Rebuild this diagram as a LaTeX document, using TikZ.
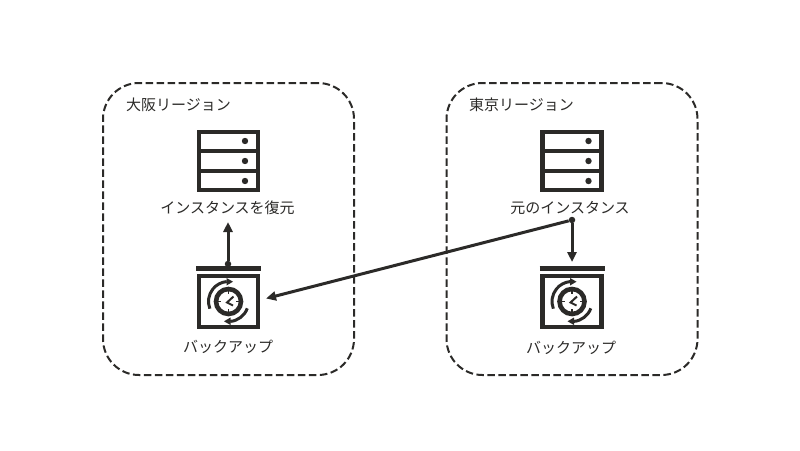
\documentclass[tikz,border=0pt]{standalone}
\usepackage{fontspec}
\setmainfont{Noto Sans CJK JP}
\usetikzlibrary{arrows.meta}
\definecolor{inkc}{HTML}{2B2A28}
\tikzset{
  region/.style={draw=inkc,line width=2pt,dash pattern=on 7.5pt off 3.5pt,rounded corners=36pt,minimum width=251pt,minimum height=292pt},
  label/.style={text=inkc,font=\fontsize{15}{18}\selectfont,inner sep=0pt},
  server/.style={draw=inkc,line width=4.5pt,minimum width=59pt,minimum height=58pt,inner sep=0pt},
  backupbox/.style={draw=inkc,line width=4.5pt,minimum width=59pt,minimum height=51pt,inner sep=0pt},
  joint/.style={circle,fill=inkc,inner sep=0pt,minimum size=6.5pt},
  conn/.style={draw=inkc,line width=3pt,-{Triangle[length=10pt,width=9pt]}},
  pics/rack/.style={code={
    \draw[draw=inkc,line width=4.5pt] (-31,-10) -- (31,-10) (-31,10) -- (31,10);
    \foreach \y in {-20,0,20}
      \fill[inkc] (16.5,\y) circle (3.2pt);
  }},
  pics/clockicon/.style={code={
    \draw[draw=inkc,line width=4.6pt] (0,0) circle (12.5pt);
    \foreach \a in {0,90,180,270}
      \draw[draw=inkc,line width=1.4pt] (\a:10.5pt) -- (\a:7.5pt);
    \draw[draw=inkc,line width=2pt] (5,-5) -- (-1.5,1) -- (4.5,4);
    \draw[draw=inkc,line width=3pt] (201:20pt) arc (201:95:20pt);
    \fill[inkc] (-2,-23.5) -- (4.5,-19.8) -- (-2,-16) -- cycle;
    \draw[draw=inkc,line width=3pt] (-20:20pt) arc (-20:-85:20pt);
    \fill[inkc] (2,23.5) -- (-4.5,19.8) -- (2,16) -- cycle;
  }},
  pics/backupicon/.style={code={
    \draw[draw=inkc,line width=4.5pt] (-32.5,-33) -- (32.5,-33);
    \pic at (0,0) {clockicon};
  }}
}
\begin{document}
\begin{tikzpicture}[x=1pt,y=-1pt]
  \useasboundingbox (0,0) rectangle (800,450);

  % regions
  \node[region] (osaka) at (228.5,229) {};
  \node[region] (tokyo) at (572,229) {};
  \node[label,anchor=west] (osakaname) at (126,104.5) {大阪リージョン};
  \node[label,anchor=west] (tokyoname) at (469,104.5) {東京リージョン};

  % instances
  \node[server] (osakadb) at (228.5,161) {};
  \pic at (228.5,161) {rack};
  \node[label] (osakadblabel) at (227.5,207.5) {インスタンスを復元};
  \node[server] (tokyodb) at (572,161) {};
  \pic at (572,161) {rack};
  \node[label] (tokyodblabel) at (570,207.5) {元のインスタンス};

  % backups
  \node[backupbox] (osakabak) at (228.5,301.5) {};
  \pic at (228.5,301.5) {backupicon};
  \node[label] (osakabaklabel) at (228,346.5) {バックアップ};
  \node[backupbox] (tokyobak) at (572,301.5) {};
  \pic at (572,301.5) {backupicon};
  \node[label] (tokyobaklabel) at (571,347.5) {バックアップ};

  % connectors
  \node[joint] (osakajoint) at (228,264) {};
  \node[joint] (tokyojoint) at (572,220) {};
  \coordinate (osakatop) at (228,222);
  \coordinate (tokyoend) at (572,262);
  \coordinate (osakaend) at (266,298.5);
  \draw[conn] (osakajoint) -- (osakatop);
  \draw[conn] (tokyojoint) -- (tokyoend);
  \draw[conn] (tokyojoint) -- (osakaend);
\end{tikzpicture}
\end{document}
